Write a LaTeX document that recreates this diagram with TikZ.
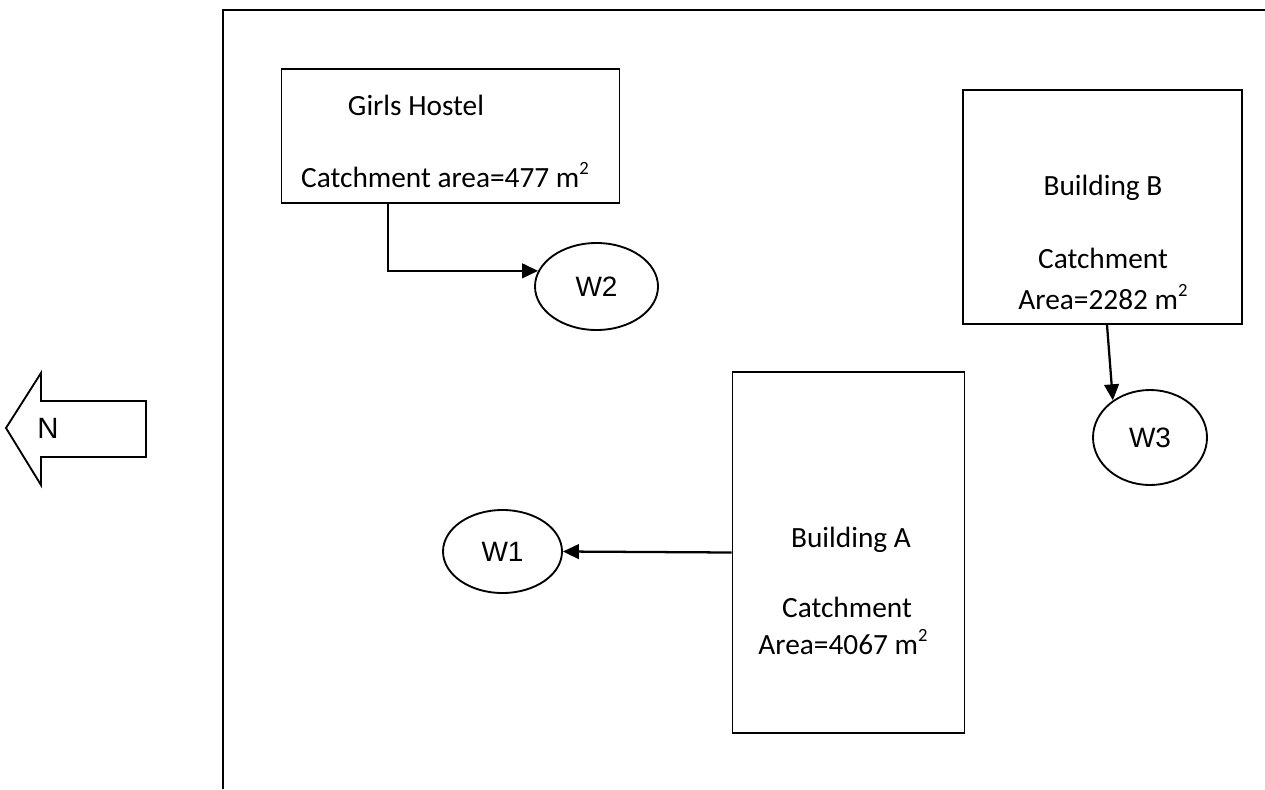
\documentclass[tikz,border=0pt]{standalone}
\usepackage{fontspec}
\setmainfont{Carlito}
\newfontfamily\wellFont{Liberation Sans}
\usetikzlibrary{shapes.geometric, arrows.meta}
\newlength{\pxUnit}
\setlength{\pxUnit}{0.375pt}
\tikzstyle{plan} = [x=\pxUnit, y=-\pxUnit]
\tikzstyle{boundaryLine} = [line width=1pt]
\tikzstyle{buildingStyle} = [draw, rectangle, line width=0.7pt, inner sep=0pt]
\tikzstyle{buildingText} = [font=\fontsize{11}{13}\selectfont, inner sep=0pt]
\tikzstyle{wellStyle} = [draw, ellipse, line width=0.7pt, inner sep=0pt, font=\wellFont\fontsize{10.5}{12}\selectfont]
\tikzstyle{drainLine} = [line width=0.85pt, -{Triangle[length=6pt, width=5.5pt]}]
\newcommand{\sqm}{m\raisebox{0.9ex}{\fontsize{7}{8}\selectfont 2}}

\begin{document}
\begin{tikzpicture}[plan]
  \useasboundingbox (0,0) rectangle (1265,789);

  % site boundary
  \draw [boundaryLine] (1265,10) -- (223,10) -- (223,789);

  % north arrow
  \draw [line width=0.7pt] (6,428) -- (41,373) -- (41,401) -- (146,401) -- (146,457) -- (41,457) -- (41,485) -- cycle;
  \node [font=\wellFont\fontsize{11}{12}\selectfont, inner sep=0pt] (north) at (48,428) {N};

  % buildings
  \node [buildingStyle, minimum width=338\pxUnit, minimum height=134\pxUnit] (hostel) at (450.5,136) {};
  \node [buildingText] (hostelName) at (416,105) {Girls Hostel};
  \node [buildingText] (hostelArea) at (445,175) {Catchment area=477 \sqm};

  \node [buildingStyle, minimum width=279\pxUnit, minimum height=234\pxUnit] (bldgB) at (1102.5,207) {};
  \node [buildingText] (bldgBName) at (1103,188) {Building B};
  \node [buildingText] (bldgBLabel) at (1103,258) {Catchment};
  \node [buildingText] (bldgBArea) at (1103,297) {Area=2282 \sqm};

  \node [buildingStyle, minimum width=232\pxUnit, minimum height=361\pxUnit] (bldgA) at (848.5,552.5) {};
  \node [buildingText] (bldgAName) at (851,540) {Building A};
  \node [buildingText] (bldgALabel) at (847,607) {Catchment};
  \node [buildingText] (bldgAArea) at (843,642) {Area=4067 \sqm};

  % wells
  \node [wellStyle, minimum width=119\pxUnit, minimum height=83\pxUnit] (w1) at (502.5,551.5) {W1};
  \node [wellStyle, minimum width=123\pxUnit, minimum height=87\pxUnit] (w2) at (596.5,286.5) {W2};
  \node [wellStyle, minimum width=114\pxUnit, minimum height=95\pxUnit] (w3) at (1150,437.5) {W3};

  % roof drains
  \draw [drainLine] ([xshift=-62.5\pxUnit]hostel.south) |- (w2.165);
  \draw [drainLine] (bldgA.west) -- (w1.east);
  \draw [drainLine] ([xshift=4.5\pxUnit]bldgB.south) -- (w3.135);
\end{tikzpicture}
\end{document}
